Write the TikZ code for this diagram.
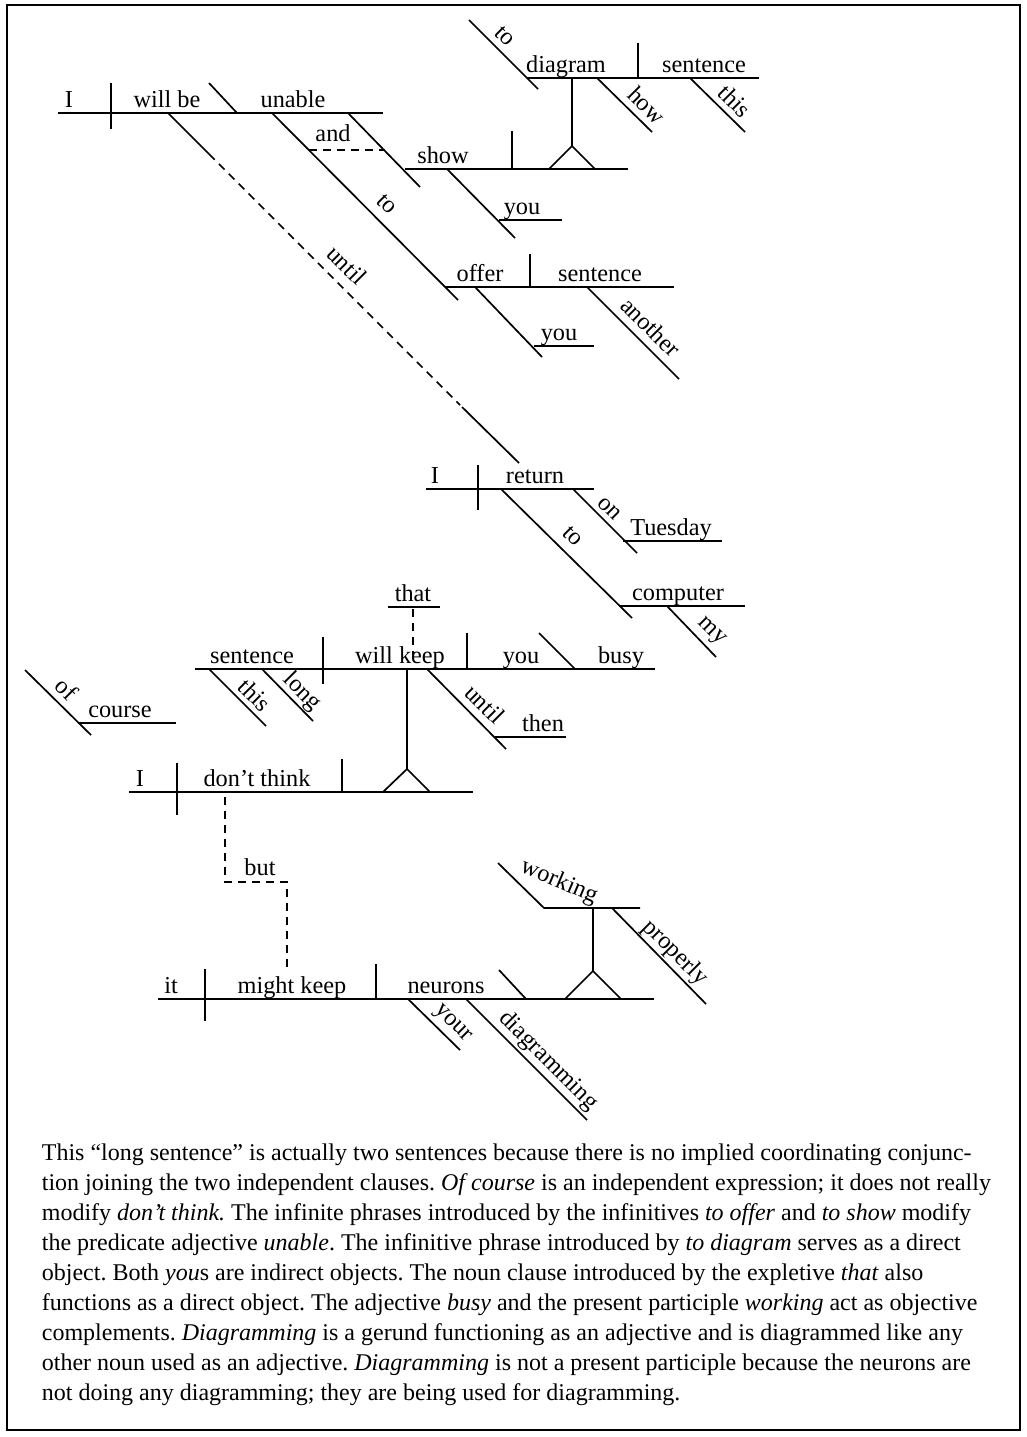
\documentclass[tikz,border=0pt]{standalone}
\usepackage{fontspec}
\setmainfont{Liberation Serif}
\frenchspacing
\begin{document}
\begin{tikzpicture}[x=1pt,y=-1pt, line width=1.7pt,
  w/.style={font=\fontsize{24.3}{29}\selectfont, inner sep=0pt, anchor=base},
  r/.style={font=\fontsize{24.3}{29}\selectfont, inner sep=0pt, rotate=-45},
  para/.style={font=\fontsize{24}{30}\selectfont, inner sep=0pt, anchor=base west},
  dsh/.style={dash pattern=on 8pt off 6pt}]
\useasboundingbox (0,0) rectangle (1026,1437);
\draw[line width=2.5pt] (7,5) rectangle (1020,1430);

% ---------- I will be unable ----------
\draw (58,113) -- (383,113);
\draw (111,83) -- (111,129);
\draw (209,83) -- (237,113);
\node[w] (wI1) at (69,107) {I};
\node[w] (wWillbe) at (167,107) {will be};
\node[w] (wUnable) at (293,107) {unable};
% until (to second clause)
\draw (168,113) -- (209,154);
\draw[dsh] (209,154) -- (460,405);
\draw (462,407) -- (519,463);
\node[r] (wUntil1) at (347,265) {until};
% to offer
\draw (272,113) -- (458,300);
\node[r] (wTo1) at (387,204) {to};
% and show
\draw (348,113) -- (420,187);
\draw[dsh] (309,150) -- (385,150);
\node[w] (wAnd) at (333,141) {and};
\draw (405,169) -- (628,169);
\node[w] (wShow) at (443,163) {show};
\draw (512,131) -- (512,169);
\draw (549,169) -- (572,146) -- (595,169);
\draw (572,146) -- (572,78);
\draw (447,169) -- (515,238);
\draw (499,220) -- (562,220);
\node[w] (wYou1) at (522,214) {you};
% to diagram this sentence how
\draw (469,20) -- (538,89);
\draw (527,78) -- (759,78);
\node[r] (wTo2) at (505,36) {to};
\node[w] (wDiagram) at (566,72) {diagram};
\draw (638,43) -- (638,78);
\node[w] (wSentence1) at (704,72) {sentence};
\draw (597,78) -- (652,132);
\node[r] (wHow) at (647,105) {how};
\draw (690,78) -- (745,132);
\node[r] (wThis1) at (735,101) {this};
% offer another sentence you
\draw (445,287) -- (674,287);
\node[w] (wOffer) at (480,281) {offer};
\draw (530,254) -- (530,287);
\node[w] (wSentence2) at (600,281) {sentence};
\draw (475,287) -- (542,357);
\draw (534,346) -- (594,346);
\node[w] (wYou2) at (559,340) {you};
\draw (587,287) -- (679,379);
\node[r] (wAnother) at (651,327) {another};

% ---------- I return ----------
\draw (426,489) -- (594,489);
\draw (478,465) -- (478,510);
\node[w] (wI2) at (435,483) {I};
\node[w] (wReturn) at (535,483) {return};
\draw (501,489) -- (632,618);
\node[r] (wTo3) at (573,536) {to};
\draw (619,606) -- (745,606);
\node[w] (wComputer) at (678,600) {computer};
\draw (667,606) -- (716,657);
\node[r] (wMy) at (711,632) {my};
\draw (573,489) -- (637,553);
\node[r] (wOn) at (609,509) {on};
\draw (623,541) -- (722,541);
\node[w] (wTuesday) at (671,535) {Tuesday};

% ---------- that sentence will keep you busy ----------
\draw (388,607) -- (440,607);
\node[w] (wThat) at (413,601) {that};
\draw[dsh] (413,609) -- (413,655);
\draw (195,669) -- (655,669);
\draw (323,637) -- (323,684);
\draw (467,633) -- (467,669);
\draw (539,633) -- (575,669);
\node[w] (wSentence3) at (252,663) {sentence};
\node[w] (wWillkeep) at (400,663) {will keep};
\node[w] (wYou3) at (521,663) {you};
\node[w] (wBusy) at (621,663) {busy};
\draw (209,669) -- (266,726);
\node[r] (wThis2) at (255,695) {this};
\draw (262,669) -- (313,721);
\node[r] (wLong) at (302,692) {long};
\draw (407,669) -- (407,769);
\draw (383,792) -- (407,769) -- (430,792);
\draw (427,669) -- (506,749);
\draw (495,737) -- (566,737);
\node[r] (wUntil2) at (485,704) {until};
\node[w] (wThen) at (543,731) {then};

% ---------- of course ----------
\draw (25,670) -- (91,735);
\draw (78,723) -- (176,723);
\node[r] (wOf) at (67,689) {of};
\node[w] (wCourse) at (120,717) {course};

% ---------- I don't think ----------
\draw (129,792) -- (473,792);
\draw (177,763) -- (177,815);
\draw (342,759) -- (342,792);
\node[w] (wI3) at (140,786) {I};
\node[w] (wDontthink) at (257,786) {don’t think};
\draw[dsh] (225,797) -- (225,882) -- (287,882) -- (287,970);
\node[w] (wBut) at (260,875) {but};

% ---------- it might keep your neurons ... ----------
\draw (158,999) -- (654,999);
\draw (205,969) -- (205,1021);
\draw (376,964) -- (376,999);
\draw (499,970) -- (526,999);
\draw (565,999) -- (593,971) -- (621,999);
\draw (593,971) -- (593,908);
\draw (498,863) -- (544,908) -- (640,908);
\node[font=\fontsize{24.3}{29}\selectfont, inner sep=0pt, rotate=-23] (wWorking) at (559,882) {working};
\draw (612,908) -- (706,1004);
\node[r] (wProperly) at (675,953) {properly};
\draw (408,999) -- (460,1050);
\node[r] (wYour) at (452,1024) {your};
\draw (466,999) -- (587,1120);
\node[r] (wDiagramming) at (548,1061) {diagramming};
\node[w] (wIt) at (171,993) {it};
\node[w] (wMightkeep) at (292,993) {might keep};
\node[w] (wNeurons) at (446,993) {neurons};

% ---------- explanation ----------
\node[para] (p1) at (41,1160) {This “long sentence” is actually two sentences because there is no implied coordinating conjunc-};
\node[para] (p2) at (41,1190.1) {tion joining the two independent clauses. \textit{Of course} is an independent expression; it does not really};
\node[para] (p3) at (41,1220.2) {modify \textit{don’t think.} The infinite phrases introduced by the infinitives \textit{to offer} and \textit{to show} modify};
\node[para] (p4) at (41,1250.3) {the predicate adjective \textit{unable}. The infinitive phrase introduced by \textit{to diagram} serves as a direct};
\node[para] (p5) at (41,1280.4) {object. Both \textit{you}s are indirect objects. The noun clause introduced by the expletive \textit{that} also};
\node[para] (p6) at (41,1310.5) {functions as a direct object. The adjective \textit{busy} and the present participle \textit{working} act as objective};
\node[para] (p7) at (41,1340.6) {complements. \textit{Diagramming} is a gerund functioning as an adjective and is diagrammed like any};
\node[para] (p8) at (41,1370.7) {other noun used as an adjective. \textit{Diagramming} is not a present participle because the neurons are};
\node[para] (p9) at (41,1400.8) {not doing any diagramming; they are being used for diagramming.};
\end{tikzpicture}
\end{document}
